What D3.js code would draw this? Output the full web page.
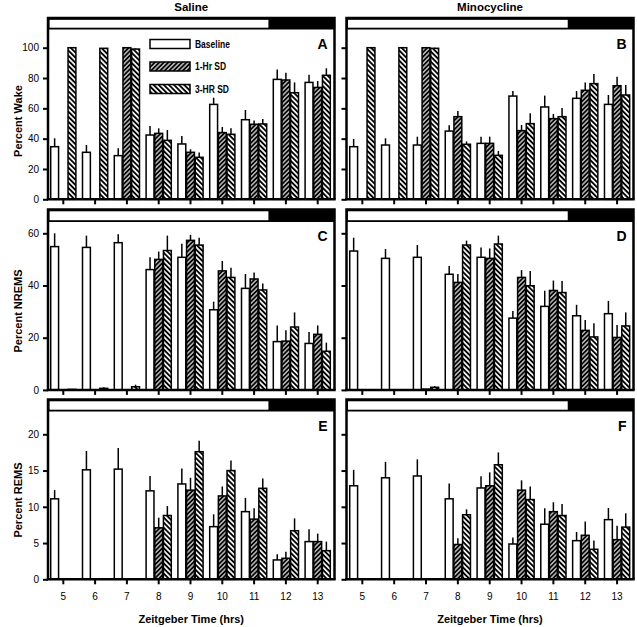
<!DOCTYPE html>
<html><head><meta charset="utf-8">
<script src="https://cdn.jsdelivr.net/npm/d3@7"></script>
<style>
html,body{margin:0;padding:0;background:#fff;}
text{font-family:"Liberation Sans",Arial,Helvetica,sans-serif;}
</style></head>
<body>
<svg id="chart" width="637" height="627"></svg>
<script>
// ---------- data ----------
const zt = [5,6,7,8,9,10,11,12,13];
const seriesNames = ["Baseline","1-Hr SD","3-HR SD"];
const columnTitles = ["Saline","Minocycline"];
const rowTitles = ["Percent Wake","Percent NREMS","Percent REMS"];
const panelLetters = ["A","B","C","D","E","F"];
const wakeTicks = [0,20,40,60,80,100];
const nremTicks = [0,20,40,60];
const remTicks = [0,5,10,15,20];

// Panel A: Wake, Saline
const wakeSalBase = [34.7,31,28.8,42.4,36.5,62.6,52.5,79.1,77.1];
const wakeSalBaseErr = [5.5,4.8,4.8,6,5.3,4.4,6.4,6.6,5.1];
const wakeSal1h = [null,null,100,43.5,31,44,49.5,78.7,73.8];
const wakeSal1hErr = [0,0,0,3.3,2,3.7,2.4,4.8,4.2];
const wakeSal3h = [100,99.6,99.1,38.9,27.7,42.9,49.7,70.3,81.8];
const wakeSal3hErr = [0,0,0.5,6.8,3.1,3.9,3.3,6.8,4.6];
// Panel B: Wake, Minocycline
const wakeMinBase = [34.7,35.8,35.8,45,36.9,68.1,60.9,66.6,62.6];
const wakeMinBaseErr = [5.1,4.4,5.5,3.8,4.4,3.3,7.5,4.8,6.2];
const wakeMin1h = [null,null,100,54.5,36.9,45.3,53.2,71.9,74.9];
const wakeMin1hErr = [0,0,0,3.7,4.4,3.7,3.1,5.2,6];
const wakeMin3h = [100,100,99.6,36.3,29,49.9,54.5,76.3,68.8];
const wakeMin3hErr = [0,0,0.4,1.9,2.9,6.8,5.7,6.3,6.6];
// Panel C: NREMS, Saline
const nremSalBase = [54.9,54.6,56.4,46.1,50.8,30.7,38.9,18.5,17.8];
const nremSalBaseErr = [5.1,4.5,3.2,4.7,5.2,3.1,5.5,6.2,4.4];
const nremSal1h = [null,null,0,50,57.3,45.6,42.5,18.7,21.3];
const nremSal1hErr = [0,0,0,3,2.1,3.8,2.5,4.2,3.4];
const nremSal3h = [0.2,0.6,1.2,53.4,55.5,43.1,38.3,24.1,14.8];
const nremSal3hErr = [0,0.4,0.8,5.7,2.8,3.7,2.5,5.6,3.3];
// Panel D: NREMS, Minocycline
const nremMinBase = [53.2,50.4,50.8,44.3,50.8,27.5,32,28.4,29.2];
const nremMinBaseErr = [5.1,3.6,4.7,3.2,3.8,2.7,6,4.2,4.9];
const nremMin1h = [null,null,0.3,41.2,50.4,43.1,38.1,22.8,20.1];
const nremMin1hErr = [0,0,0,3.2,3.8,2.8,3.8,4,4.8];
const nremMin3h = [0,0,1,55.5,55.9,39.9,37.3,20.3,24.5];
const nremMin3hErr = [0,0,0.5,1.7,3.2,5.7,4.4,5.2,5.2];
// Panel E: REMS, Saline
const remSalBase = [11.1,15.1,15.2,12.2,13.15,7.26,9.33,2.67,5.2];
const remSalBaseErr = [1.2,2.6,2.9,2.05,2.15,1.7,1.9,0.8,1.7];
const remSal1h = [null,null,0,7.1,12.3,11.5,8.3,2.9,5.2];
const remSal1hErr = [0,0,0,1.4,1.7,1.3,1.5,0.9,1.1];
const remSal3h = [0,0,0,8.8,17.6,15,12.55,6.7,3.95];
const remSal3hErr = [0,0,0,1.3,1.5,1.4,1.35,1.7,1.25];
// Panel F: REMS, Minocycline
const remMinBase = [12.9,14,14.25,11.1,12.6,4.87,7.6,5.33,8.23];
const remMinBaseErr = [2.2,2.2,2.3,2.1,1.6,0.9,2.2,1.2,1.6];
const remMin1h = [null,null,0,4.8,12.9,12.3,9.33,6.07,5.47];
const remMin1hErr = [0,0,0,0.85,1.85,1.35,1.3,1.9,1.9];
const remMin3h = [0,0,0,8.9,15.8,11,8.8,4.14,7.2];
const remMin3hErr = [0,0,0,0.75,1.7,1.8,1.6,1.2,1.9];

const lightsOffZT = 11.45;

// ---------- layout ----------
const svg = d3.select("#chart");
const defs = svg.append("defs");
const p1 = defs.append("pattern").attr("id","hatch1").attr("patternUnits","userSpaceOnUse")
  .attr("width",3.2).attr("height",3.2).attr("patternTransform","rotate(45)");
p1.append("rect").attr("width",3.2).attr("height",3.2).attr("fill","#000");
p1.append("line").attr("x1",1.6).attr("x2",1.6).attr("y1",0).attr("y2",3.2).attr("stroke","#fff").attr("stroke-width",1.1);
const p3 = defs.append("pattern").attr("id","hatch3").attr("patternUnits","userSpaceOnUse")
  .attr("width",3.6).attr("height",3.6).attr("patternTransform","rotate(-45)");
p3.append("rect").attr("width",3.6).attr("height",3.6).attr("fill","#fff");
p3.append("line").attr("x1",1.8).attr("x2",1.8).attr("y1",0).attr("y2",3.6).attr("stroke","#000").attr("stroke-width",1.9);
const fills = ["#fff","url(#hatch1)","url(#hatch3)"];

const cols = [{x0:47.4,x1:333.6,fx0:48,fx1:334.5},{x0:346.4,x1:633,fx0:346.5,fx1:633.5}];
const rows = [
  {top:18, stripB:29.5, y0:199.3, vTop:100, yTop:47.7, ticks:wakeTicks, titleY:121},
  {top:209.5, stripB:222, y0:389.9, vTop:60, yTop:233.3, ticks:nremTicks, titleY:311},
  {top:399.5, stripB:411.5, y0:579.3, vTop:20, yTop:434.3, ticks:remTicks, titleY:500}
];
const panels = [
  [wakeSalBase,wakeSalBaseErr,wakeSal1h,wakeSal1hErr,wakeSal3h,wakeSal3hErr],
  [wakeMinBase,wakeMinBaseErr,wakeMin1h,wakeMin1hErr,wakeMin3h,wakeMin3hErr],
  [nremSalBase,nremSalBaseErr,nremSal1h,nremSal1hErr,nremSal3h,nremSal3hErr],
  [nremMinBase,nremMinBaseErr,nremMin1h,nremMin1hErr,nremMin3h,nremMin3hErr],
  [remSalBase,remSalBaseErr,remSal1h,remSal1hErr,remSal3h,remSal3hErr],
  [remMinBase,remMinBaseErr,remMin1h,remMin1hErr,remMin3h,remMin3hErr]
];

panels.forEach((arrs, pi) => {
  const r = rows[Math.floor(pi/2)], c = cols[pi%2];
  const g = svg.append("g");
  const x = d3.scaleBand().domain(zt).range([c.x0,c.x1]).padding(0);
  const xs = d3.scaleBand().domain(seriesNames).range([-13,13]).padding(0);
  const y = d3.scaleLinear().domain([0,r.vTop]).range([r.y0,r.yTop]);
  const ztLin = d3.scaleLinear().domain([5,13]).range([x(5)+x.bandwidth()/2, x(13)+x.bandwidth()/2]);

  // bars
  seriesNames.forEach((s, si) => {
    const vals = arrs[si*2], errs = arrs[si*2+1];
    const data = zt.map((t,i)=>({t, v:vals[i], e:errs[i]})).filter(d=>d.v!==null && d.v>0);
    g.selectAll(null).data(data.filter(d=>d.e>0)).enter().append("line")
      .attr("x1",d=>x(d.t)+x.bandwidth()/2+xs(s)+xs.bandwidth()/2)
      .attr("x2",d=>x(d.t)+x.bandwidth()/2+xs(s)+xs.bandwidth()/2)
      .attr("y1",d=>y(d.v)).attr("y2",d=>y(d.v+d.e))
      .attr("stroke","#000").attr("stroke-width",1.5);
    g.selectAll(null).data(data).enter().append("rect")
      .attr("x",d=>x(d.t)+x.bandwidth()/2+xs(s)+0.4)
      .attr("width",xs.bandwidth()-0.8)
      .attr("y",d=>y(d.v)).attr("height",d=>r.y0-y(d.v))
      .attr("fill",fills[si]).attr("stroke","#000").attr("stroke-width",1.5);
  });

  // strip
  const split = ztLin(lightsOffZT);
  g.append("rect").attr("x",c.fx0).attr("y",r.top).attr("width",c.fx1-c.fx0).attr("height",r.stripB-r.top).attr("fill","#000");
  g.append("rect").attr("x",c.fx0+1.5).attr("y",r.top+1.8).attr("width",split-c.fx0-1.5).attr("height",r.stripB-r.top-3.6).attr("fill","#fff");
  // frame
  g.append("path").attr("d",`M${c.fx0},${r.y0}V${r.top}H${c.fx1}V${r.y0}`)
    .attr("fill","none").attr("stroke","#000").attr("stroke-width",2.5);
  // x axis
  const xAxis = d3.axisBottom(x).tickSize(5).tickPadding(9).tickFormat(pi>=4? d=>d : ()=>"");
  const xa = g.append("g").attr("transform",`translate(0,${r.y0})`).call(xAxis);
  xa.select(".domain").remove();
  xa.selectAll(".tick line").attr("stroke","#000").attr("stroke-width",2);
  xa.selectAll(".tick text").attr("font-size",10).attr("fill","#000").attr("font-family","Liberation Sans, Arial, sans-serif");
  g.append("line").attr("x1",c.fx0-1.2).attr("x2",c.fx1+1.2).attr("y1",r.y0).attr("y2",r.y0).attr("stroke","#000").attr("stroke-width",2.5);
  // y axis
  const yAxis = d3.axisLeft(y).tickValues(r.ticks).tickSize(5).tickPadding(4).tickFormat(pi%2===0? d=>d : ()=>"");
  const ya = g.append("g").attr("transform",`translate(${c.fx0},0)`).call(yAxis);
  ya.select(".domain").remove();
  ya.selectAll(".tick line").attr("stroke","#000").attr("stroke-width",2);
  ya.selectAll(".tick text").attr("font-size",10).attr("fill","#000").attr("font-family","Liberation Sans, Arial, sans-serif");
  // panel letter
  g.append("text").attr("x",c.fx1-7).attr("y",r.stripB+19).attr("text-anchor","end")
    .attr("font-size",14).attr("font-weight","bold").text(panelLetters[pi]);

  if (pi%2===0) {
    g.append("text").attr("transform",`translate(22,${r.titleY}) rotate(-90)`).attr("text-anchor","middle")
      .attr("font-size",11).attr("font-weight","bold").text(rowTitles[Math.floor(pi/2)]);
  }
  if (pi<2) {
    g.append("text").attr("x",(c.fx0+c.fx1)/2).attr("y",11).attr("text-anchor","middle")
      .attr("font-size",11.5).attr("font-weight","bold").text(columnTitles[pi]);
  }
  if (pi>=4) {
    g.append("text").attr("x",(c.fx0+c.fx1)/2).attr("y",623).attr("text-anchor","middle")
      .attr("font-size",11).attr("font-weight","bold").text("Zeitgeber Time (hrs)");
  }
  if (pi===0) {
    const leg = g.append("g");
    seriesNames.forEach((s,si)=>{
      const ly = 39.5 + si*22.5;
      leg.append("rect").attr("x",150).attr("y",ly).attr("width",40).attr("height",9)
        .attr("fill",fills[si]).attr("stroke","#000").attr("stroke-width",1.5);
      leg.append("text").attr("x",195).attr("y",ly+8.5).attr("font-size",10).attr("font-weight","bold")
        .attr("transform",`translate(${195*0.15},0) scale(0.85,1)`).text(s);
    });
  }
});
</script>
</body></html>
